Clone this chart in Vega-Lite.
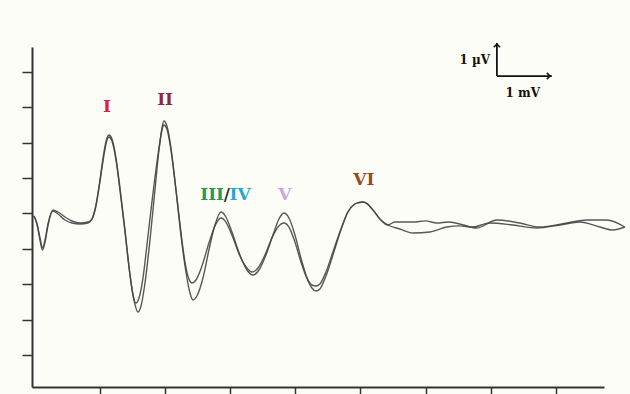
{
  "$schema": "https://vega.github.io/schema/vega-lite/v6.json",
  "width": 572,
  "height": 340,
  "autosize": {"type": "none"},
  "padding": {"left": 32, "top": 47, "right": 26, "bottom": 7},
  "background": "#fdfdf7",
  "config": {"view": {"stroke": null}},
  "datasets": {
    "wave": [
      {"t": -0.013, "v": 4.928, "trace": "A"}, {"t": 0.033, "v": 4.702, "trace": "A"}, {"t": 0.079, "v": 4.25, "trace": "A"}, {"t": 0.117, "v": 3.968, "trace": "A"}, {"t": 0.156, "v": 4.194, "trace": "A"}, {"t": 0.202, "v": 4.674, "trace": "A"}, {"t": 0.278, "v": 5.069, "trace": "A"}, {"t": 0.355, "v": 4.984, "trace": "A"}, {"t": 0.462, "v": 4.815, "trace": "A"}, {"t": 0.57, "v": 4.73, "trace": "A"}, {"t": 0.693, "v": 4.702, "trace": "A"}, {"t": 0.816, "v": 4.73, "trace": "A"}, {"t": 0.877, "v": 4.843, "trace": "A"}, {"t": 0.938, "v": 5.238, "trace": "A"}, {"t": 0.999, "v": 5.944, "trace": "A"}, {"t": 1.061, "v": 6.735, "trace": "A"}, {"t": 1.107, "v": 7.13, "trace": "A"}, {"t": 1.138, "v": 7.215, "trace": "A"}, {"t": 1.184, "v": 7.102, "trace": "A"}, {"t": 1.246, "v": 6.565, "trace": "A"}, {"t": 1.307, "v": 5.718, "trace": "A"}, {"t": 1.384, "v": 4.532, "trace": "A"}, {"t": 1.461, "v": 3.262, "trace": "A"}, {"t": 1.522, "v": 2.556, "trace": "A"}, {"t": 1.583, "v": 2.217, "trace": "A"}, {"t": 1.63, "v": 2.387, "trace": "A"}, {"t": 1.691, "v": 3.036, "trace": "A"}, {"t": 1.768, "v": 4.25, "trace": "A"}, {"t": 1.844, "v": 5.662, "trace": "A"}, {"t": 1.906, "v": 6.791, "trace": "A"}, {"t": 1.952, "v": 7.412, "trace": "A"}, {"t": 1.982, "v": 7.61, "trace": "A"}, {"t": 2.028, "v": 7.469, "trace": "A"}, {"t": 2.09, "v": 6.848, "trace": "A"}, {"t": 2.167, "v": 5.662, "trace": "A"}, {"t": 2.243, "v": 4.391, "trace": "A"}, {"t": 2.32, "v": 3.347, "trace": "A"}, {"t": 2.382, "v": 2.754, "trace": "A"}, {"t": 2.428, "v": 2.556, "trace": "A"}, {"t": 2.489, "v": 2.669, "trace": "A"}, {"t": 2.581, "v": 3.177, "trace": "A"}, {"t": 2.673, "v": 3.968, "trace": "A"}, {"t": 2.765, "v": 4.674, "trace": "A"}, {"t": 2.858, "v": 5.041, "trace": "A"}, {"t": 2.934, "v": 4.9, "trace": "A"}, {"t": 3.026, "v": 4.476, "trace": "A"}, {"t": 3.149, "v": 3.827, "trace": "A"}, {"t": 3.257, "v": 3.403, "trace": "A"}, {"t": 3.349, "v": 3.262, "trace": "A"}, {"t": 3.441, "v": 3.403, "trace": "A"}, {"t": 3.548, "v": 3.827, "trace": "A"}, {"t": 3.656, "v": 4.391, "trace": "A"}, {"t": 3.748, "v": 4.843, "trace": "A"}, {"t": 3.825, "v": 5.012, "trace": "A"}, {"t": 3.902, "v": 4.871, "trace": "A"}, {"t": 3.994, "v": 4.391, "trace": "A"}, {"t": 4.086, "v": 3.742, "trace": "A"}, {"t": 4.178, "v": 3.177, "trace": "A"}, {"t": 4.255, "v": 2.895, "trace": "A"}, {"t": 4.316, "v": 2.81, "trace": "A"}, {"t": 4.377, "v": 2.867, "trace": "A"}, {"t": 4.47, "v": 3.234, "trace": "A"}, {"t": 4.577, "v": 3.827, "trace": "A"}, {"t": 4.7, "v": 4.532, "trace": "A"}, {"t": 4.807, "v": 5.041, "trace": "A"}, {"t": 4.914, "v": 5.267, "trace": "A"}, {"t": 4.98, "v": 5.31, "trace": "A"}, {"t": 5.037, "v": 5.323, "trace": "A"}, {"t": 5.1, "v": 5.28, "trace": "A"}, {"t": 5.2, "v": 5.08, "trace": "A"}, {"t": 5.3, "v": 4.84, "trace": "A"}, {"t": 5.421, "v": 4.674, "trace": "A"}, {"t": 5.529, "v": 4.758, "trace": "A"}, {"t": 5.805, "v": 4.758, "trace": "A"}, {"t": 6.0, "v": 4.79, "trace": "A"}, {"t": 6.173, "v": 4.73, "trace": "A"}, {"t": 6.35, "v": 4.76, "trace": "A"}, {"t": 6.526, "v": 4.702, "trace": "A"}, {"t": 6.787, "v": 4.589, "trace": "A"}, {"t": 7.094, "v": 4.815, "trace": "A"}, {"t": 7.448, "v": 4.73, "trace": "A"}, {"t": 7.755, "v": 4.617, "trace": "A"}, {"t": 8.169, "v": 4.73, "trace": "A"}, {"t": 8.476, "v": 4.815, "trace": "A"}, {"t": 8.783, "v": 4.815, "trace": "A"}, {"t": 9.06, "v": 4.617, "trace": "A"},
      {"t": -0.013, "v": 4.928, "trace": "B"}, {"t": 0.033, "v": 4.702, "trace": "B"}, {"t": 0.079, "v": 4.307, "trace": "B"}, {"t": 0.117, "v": 4.024, "trace": "B"}, {"t": 0.156, "v": 4.25, "trace": "B"}, {"t": 0.202, "v": 4.702, "trace": "B"}, {"t": 0.278, "v": 5.097, "trace": "B"}, {"t": 0.355, "v": 5.041, "trace": "B"}, {"t": 0.462, "v": 4.9, "trace": "B"}, {"t": 0.57, "v": 4.787, "trace": "B"}, {"t": 0.693, "v": 4.73, "trace": "B"}, {"t": 0.816, "v": 4.758, "trace": "B"}, {"t": 0.877, "v": 4.843, "trace": "B"}, {"t": 0.938, "v": 5.21, "trace": "B"}, {"t": 0.999, "v": 5.888, "trace": "B"}, {"t": 1.061, "v": 6.65, "trace": "B"}, {"t": 1.107, "v": 7.073, "trace": "B"}, {"t": 1.138, "v": 7.158, "trace": "B"}, {"t": 1.184, "v": 7.045, "trace": "B"}, {"t": 1.246, "v": 6.509, "trace": "B"}, {"t": 1.307, "v": 5.662, "trace": "B"}, {"t": 1.384, "v": 4.476, "trace": "B"}, {"t": 1.461, "v": 3.262, "trace": "B"}, {"t": 1.507, "v": 2.697, "trace": "B"}, {"t": 1.553, "v": 2.472, "trace": "B"}, {"t": 1.599, "v": 2.613, "trace": "B"}, {"t": 1.66, "v": 3.177, "trace": "B"}, {"t": 1.737, "v": 4.363, "trace": "B"}, {"t": 1.829, "v": 5.803, "trace": "B"}, {"t": 1.906, "v": 6.848, "trace": "B"}, {"t": 1.952, "v": 7.356, "trace": "B"}, {"t": 1.982, "v": 7.497, "trace": "B"}, {"t": 2.028, "v": 7.384, "trace": "B"}, {"t": 2.09, "v": 6.791, "trace": "B"}, {"t": 2.167, "v": 5.662, "trace": "B"}, {"t": 2.243, "v": 4.476, "trace": "B"}, {"t": 2.305, "v": 3.629, "trace": "B"}, {"t": 2.366, "v": 3.149, "trace": "B"}, {"t": 2.412, "v": 3.036, "trace": "B"}, {"t": 2.474, "v": 3.121, "trace": "B"}, {"t": 2.566, "v": 3.516, "trace": "B"}, {"t": 2.673, "v": 4.165, "trace": "B"}, {"t": 2.765, "v": 4.645, "trace": "B"}, {"t": 2.858, "v": 4.871, "trace": "B"}, {"t": 2.934, "v": 4.758, "trace": "B"}, {"t": 3.026, "v": 4.391, "trace": "B"}, {"t": 3.149, "v": 3.798, "trace": "B"}, {"t": 3.257, "v": 3.46, "trace": "B"}, {"t": 3.334, "v": 3.347, "trace": "B"}, {"t": 3.426, "v": 3.46, "trace": "B"}, {"t": 3.533, "v": 3.827, "trace": "B"}, {"t": 3.64, "v": 4.307, "trace": "B"}, {"t": 3.733, "v": 4.617, "trace": "B"}, {"t": 3.825, "v": 4.73, "trace": "B"}, {"t": 3.902, "v": 4.617, "trace": "B"}, {"t": 3.994, "v": 4.194, "trace": "B"}, {"t": 4.086, "v": 3.629, "trace": "B"}, {"t": 4.178, "v": 3.177, "trace": "B"}, {"t": 4.255, "v": 2.98, "trace": "B"}, {"t": 4.316, "v": 2.952, "trace": "B"}, {"t": 4.377, "v": 3.008, "trace": "B"}, {"t": 4.47, "v": 3.347, "trace": "B"}, {"t": 4.577, "v": 3.911, "trace": "B"}, {"t": 4.7, "v": 4.561, "trace": "B"}, {"t": 4.807, "v": 5.041, "trace": "B"}, {"t": 4.914, "v": 5.267, "trace": "B"}, {"t": 4.98, "v": 5.31, "trace": "B"}, {"t": 5.037, "v": 5.323, "trace": "B"}, {"t": 5.1, "v": 5.28, "trace": "B"}, {"t": 5.2, "v": 5.08, "trace": "B"}, {"t": 5.3, "v": 4.84, "trace": "B"}, {"t": 5.421, "v": 4.674, "trace": "B"}, {"t": 5.605, "v": 4.561, "trace": "B"}, {"t": 5.805, "v": 4.448, "trace": "B"}, {"t": 6.066, "v": 4.476, "trace": "B"}, {"t": 6.327, "v": 4.617, "trace": "B"}, {"t": 6.52, "v": 4.65, "trace": "B"}, {"t": 6.726, "v": 4.617, "trace": "B"}, {"t": 6.987, "v": 4.73, "trace": "B"}, {"t": 7.341, "v": 4.674, "trace": "B"}, {"t": 7.709, "v": 4.589, "trace": "B"}, {"t": 8.062, "v": 4.674, "trace": "B"}, {"t": 8.369, "v": 4.758, "trace": "B"}, {"t": 8.676, "v": 4.617, "trace": "B"}, {"t": 8.876, "v": 4.532, "trace": "B"}, {"t": 9.06, "v": 4.617, "trace": "B"}
    ],
    "labelsCenter": [
      {"t": 1.109, "v": 8.0, "label": "I", "color": "#d8203a"},
      {"t": 2.0, "v": 8.2, "label": "II", "color": "#8e2a38"},
      {"t": 2.95, "v": 5.52, "label": "/", "color": "#2a3540"},
      {"t": 3.84, "v": 5.52, "label": "V", "color": "#c8a6e2"},
      {"t": 5.053, "v": 5.944, "label": "VI", "color": "#9a4a1e"}
    ],
    "labelsRight": [
      {"t": 2.905, "v": 5.52, "label": "III", "color": "#1f9a58"}
    ],
    "labelsLeft": [
      {"t": 2.99, "v": 5.52, "label": "IV", "color": "#2ba6cc"}
    ],
    "bar": [
      {"t": 7.095, "v": 8.88, "t2": 7.095, "v2": 9.81},
      {"t": 7.095, "v": 8.88, "t2": 7.939, "v2": 8.88}
    ],
    "heads": [
      {"t": 7.095, "v": 9.78, "angle": 0},
      {"t": 7.91, "v": 8.88, "angle": 90}
    ],
    "barTextRight": [
      {"t": 6.99, "v": 9.33, "label": "1 µV"}
    ],
    "barTextCenter": [
      {"t": 7.494, "v": 8.4, "label": "1 mV"}
    ]
  },
  "layer": [
    {
      "data": {"name": "wave"},
      "mark": {"type": "line", "interpolate": "monotone", "strokeWidth": 1.4, "color": "#454545", "opacity": 0.9},
      "encoding": {
        "x": {"field": "t", "type": "quantitative", "scale": {"domain": [-0.044, 8.74], "nice": false, "zero": false},
              "axis": {"title": null, "labels": false, "values": [1, 2, 3, 4, 5, 6, 7, 8], "tickSize": 8, "tickColor": "#333", "tickWidth": 1.5, "domainColor": "#333", "domainWidth": 2, "grid": false}},
        "y": {"field": "v", "type": "quantitative", "scale": {"domain": [0.1, 9.7], "nice": false, "zero": false},
              "axis": {"title": null, "labels": false, "values": [1, 2, 3, 4, 5, 6, 7, 8, 9], "tickSize": 10, "tickColor": "#333", "tickWidth": 1.5, "domainColor": "#333", "domainWidth": 2, "grid": false}},
        "detail": {"field": "trace"}
      }
    },
    {
      "data": {"name": "labelsCenter"},
      "mark": {"type": "text", "font": "DejaVu Serif", "fontWeight": "bold", "fontSize": 17, "baseline": "middle", "align": "center"},
      "encoding": {
        "x": {"field": "t", "type": "quantitative"},
        "y": {"field": "v", "type": "quantitative"},
        "text": {"field": "label"},
        "color": {"field": "color", "type": "nominal", "scale": null}
      }
    },
    {
      "data": {"name": "labelsRight"},
      "mark": {"type": "text", "font": "DejaVu Serif", "fontWeight": "bold", "fontSize": 17, "baseline": "middle", "align": "right"},
      "encoding": {
        "x": {"field": "t", "type": "quantitative"},
        "y": {"field": "v", "type": "quantitative"},
        "text": {"field": "label"},
        "color": {"field": "color", "type": "nominal", "scale": null}
      }
    },
    {
      "data": {"name": "labelsLeft"},
      "mark": {"type": "text", "font": "DejaVu Serif", "fontWeight": "bold", "fontSize": 17, "baseline": "middle", "align": "left"},
      "encoding": {
        "x": {"field": "t", "type": "quantitative"},
        "y": {"field": "v", "type": "quantitative"},
        "text": {"field": "label"},
        "color": {"field": "color", "type": "nominal", "scale": null}
      }
    },
    {
      "data": {"name": "bar"},
      "mark": {"type": "rule", "color": "#111", "strokeWidth": 1.8},
      "encoding": {
        "x": {"field": "t", "type": "quantitative"},
        "y": {"field": "v", "type": "quantitative"},
        "x2": {"field": "t2"},
        "y2": {"field": "v2"}
      }
    },
    {
      "data": {"name": "heads"},
      "mark": {"type": "point", "shape": "M-1,1L0,0L1,1", "filled": false, "size": 40, "color": "#111", "strokeWidth": 1.5, "opacity": 1},
      "encoding": {
        "x": {"field": "t", "type": "quantitative"},
        "y": {"field": "v", "type": "quantitative"},
        "angle": {"field": "angle", "type": "quantitative", "scale": null}
      }
    },
    {
      "data": {"name": "barTextRight"},
      "mark": {"type": "text", "font": "DejaVu Serif", "fontWeight": "bold", "fontSize": 12, "baseline": "middle", "align": "right", "color": "#111"},
      "encoding": {
        "x": {"field": "t", "type": "quantitative"},
        "y": {"field": "v", "type": "quantitative"},
        "text": {"field": "label"}
      }
    },
    {
      "data": {"name": "barTextCenter"},
      "mark": {"type": "text", "font": "DejaVu Serif", "fontWeight": "bold", "fontSize": 12, "baseline": "middle", "align": "center", "color": "#111"},
      "encoding": {
        "x": {"field": "t", "type": "quantitative"},
        "y": {"field": "v", "type": "quantitative"},
        "text": {"field": "label"}
      }
    }
  ]
}
